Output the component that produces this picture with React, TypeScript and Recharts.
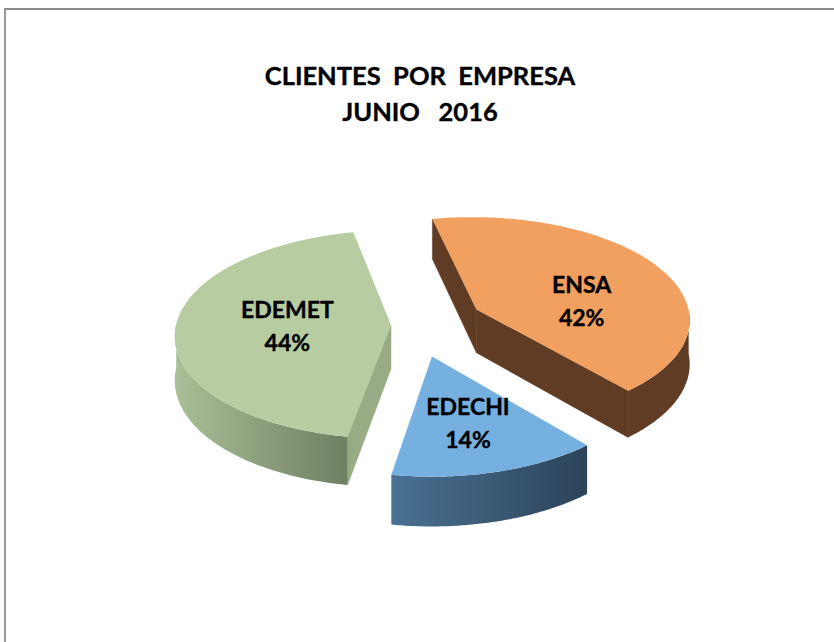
import React from "react";
import { PieChart, Pie, Cell } from "recharts";

const categories = ["ENSA", "EDECHI", "EDEMET"];
const shares = [42, 14, 44];
const titleLines = ["CLIENTES  POR  EMPRESA", "JUNIO   2016"];

const topColors = ["#F2A05F", "#75B0E0", "#B7CDA1"];
const wallFrom = ["#603C25", "#4A7193", "#AABF97"];
const wallTo = ["#603C25", "#2C4359", "#6F7F62"];
const cutColors = ["#603C25", "#2C4359", "#98AB85"];

// Explosion of each slice on the tilted disc, then the tilt itself.
const explodeX = [44, -1, -42];
const explodeZ = [33, -64, 0];
const TILT = 0.48;
const PERSPECTIVE = 0.09;
const DEPTH = 44;
const labelNudge = [
  [13, 15],
  [5, 13],
  [4, 1],
];

const chartData = categories.map((name, i) => ({ name, value: shares[i], index: i }));
const RAD = Math.PI / 180;

const project = (cx: number, cy: number, R: number, X: number, Z: number, drop = 0) => {
  const s = 1 / (1 + (PERSPECTIVE * Z) / R);
  return { x: cx + X * s, y: cy - Z * TILT * s + drop * s };
};

const toPath = (pts: { x: number; y: number }[]) =>
  pts.map((p, i) => `${i ? "L" : "M"}${p.x.toFixed(2)} ${p.y.toFixed(2)}`).join(" ") + " Z";

const Slice3D = (props: any) => {
  const { cx, cy, outerRadius: R, startAngle, endAngle, payload } = props;
  const i = payload.index;
  const ex = explodeX[i];
  const ez = explodeZ[i];
  const at = (r: number, deg: number, drop = 0) =>
    project(cx, cy, R, ex + r * Math.cos(deg * RAD), ez + r * Math.sin(deg * RAD), drop);

  const steps = 90;
  const angles: number[] = [];
  for (let k = 0; k <= steps; k++) angles.push(startAngle + ((endAngle - startAngle) * k) / steps);

  const apex = at(0, 0);
  const rim = angles.map((a) => at(R, a));
  const top = [apex, ...rim];

  // Outer wall: only where the rim faces the viewer.
  const front = angles.filter((a) => Math.sin(a * RAD) <= 0.02);
  const wall = front.length > 1
    ? [...front.map((a) => at(R, a)), ...front.slice().reverse().map((a) => at(R, a, DEPTH))]
    : [];

  const mid = at(R, (startAngle + endAngle) / 2);
  const cut = (deg: number) => {
    const p = at(R, deg);
    const slope = (p.y - apex.y) / (p.x - apex.x || 1e-6);
    const visible = mid.y < apex.y + slope * (mid.x - apex.x);
    if (!visible) return null;
    return toPath([apex, p, at(R, deg, DEPTH), at(0, 0, DEPTH)]);
  };
  const cuts = [cut(startAngle), cut(endAngle)].filter(Boolean) as string[];

  const gid = `wall-${i}`;
  return (
    <g>
      <defs>
        <linearGradient id={gid} x1="0" y1="0" x2="1" y2="0">
          <stop offset="0" stopColor={wallFrom[i]} />
          <stop offset="1" stopColor={wallTo[i]} />
        </linearGradient>
      </defs>
      {cuts.map((d, k) => (
        <path key={k} d={d} fill={cutColors[i]} stroke={cutColors[i]} strokeWidth={0.5} />
      ))}
      {wall.length > 0 && <path d={toPath(wall)} fill={`url(#${gid})`} />}
      <path d={toPath(top)} fill={topColors[i]} />
    </g>
  );
};

const SliceLabel = (props: any) => {
  const { cx, cy, outerRadius: R, midAngle, percent, name, index } = props;
  const p = project(
    cx,
    cy,
    R,
    explodeX[index] + R * 0.5 * Math.cos(midAngle * RAD),
    explodeZ[index] + R * 0.5 * Math.sin(midAngle * RAD),
  );
  const x = p.x + labelNudge[index][0];
  const y = p.y + labelNudge[index][1];
  return (
    <text
      x={x}
      y={y}
      textAnchor="middle"
      fontFamily="Lato, sans-serif"
      fontWeight={700}
      fontSize={23}
      fill="#000"
      stroke="#000"
      strokeWidth={0.35}
    >
      <tspan x={x} dy={-9}>{name}</tspan>
      <tspan x={x} dy={33}>{`${Math.round(percent * 100)}%`}</tspan>
    </text>
  );
};

export default function App() {
  return (
    <div
      style={{
        position: "absolute",
        left: 0,
        top: 0,
        width: 834,
        height: 642,
        overflow: "hidden",
        background: "#fff",
      }}
    >
      <div
        style={{
          position: "absolute",
          left: 4,
          top: 8,
          width: 840,
          height: 640,
          borderLeft: "2px solid #9A9A9A",
          borderTop: "2px solid #8A8A8A",
        }}
      />
      <div
        style={{
          position: "absolute",
          left: 0,
          top: 57,
          width: 840,
          textAlign: "center",
          fontFamily: "Lato, sans-serif",
          fontWeight: 700,
          fontSize: 25.5,
          lineHeight: "36px",
          color: "#000",
          whiteSpace: "pre",
          WebkitTextStroke: "0.35px #000",
        }}
      >
        {titleLines.map((t) => (
          <div key={t}>{t}</div>
        ))}
      </div>
      <div style={{ position: "absolute", left: 0, top: 0 }}>
        <PieChart width={834} height={642} margin={{ top: 0, right: 0, bottom: 0, left: 0 }}>
          <Pie
            data={chartData}
            dataKey="value"
            nameKey="name"
            cx={433}
            cy={325}
            outerRadius={215}
            startAngle={102}
            endAngle={-258}
            paddingAngle={0}
            stroke="none"
            shape={Slice3D}
            label={SliceLabel}
            labelLine={false}
            isAnimationActive={false}
          >
            {chartData.map((d, i) => (
              <Cell key={d.name} fill={topColors[i]} />
            ))}
          </Pie>
        </PieChart>
      </div>
    </div>
  );
}
